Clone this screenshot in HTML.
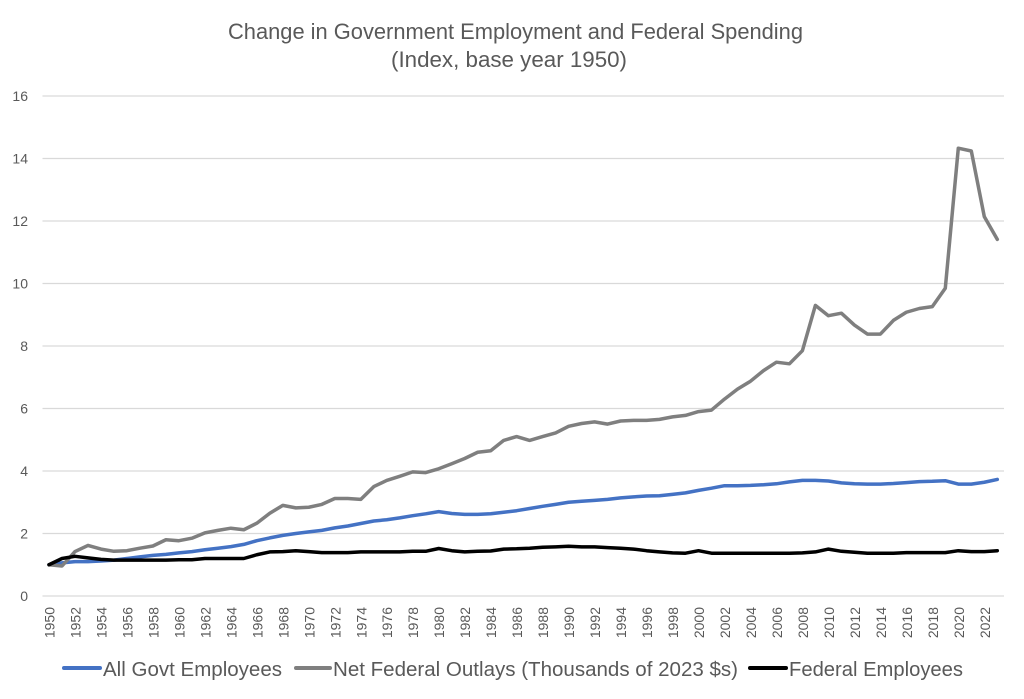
<!DOCTYPE html>
<html>
<head>
<meta charset="utf-8">
<style>
html,body{margin:0;padding:0;background:#fff;}
svg{display:block;}
text{font-family:"Liberation Sans",Arial,sans-serif;fill:#595959;}
</style>
</head>
<body>
<svg width="1024" height="699" viewBox="0 0 1024 699" xmlns="http://www.w3.org/2000/svg">
<rect x="0" y="0" width="1024" height="699" fill="#ffffff"/>
<!-- Title -->
<text x="228" y="39" font-size="22" textLength="575" lengthAdjust="spacingAndGlyphs">Change in Government Employment and Federal Spending</text>
<text x="391" y="67" font-size="22" textLength="236" lengthAdjust="spacingAndGlyphs">(Index, base year 1950)</text>

<!-- Gridlines -->
<g stroke="#d9d9d9" stroke-width="1.3">
<line x1="42.5" y1="96" x2="1004" y2="96"/>
<line x1="42.5" y1="158.5" x2="1004" y2="158.5"/>
<line x1="42.5" y1="221" x2="1004" y2="221"/>
<line x1="42.5" y1="283.5" x2="1004" y2="283.5"/>
<line x1="42.5" y1="346" x2="1004" y2="346"/>
<line x1="42.5" y1="408.5" x2="1004" y2="408.5"/>
<line x1="42.5" y1="471" x2="1004" y2="471"/>
<line x1="42.5" y1="533.5" x2="1004" y2="533.5"/>
<line x1="42.5" y1="596" x2="1004" y2="596"/>
</g>

<!-- Y labels -->
<g font-size="14" text-anchor="end">
<text x="28" y="101">16</text>
<text x="28" y="163.5">14</text>
<text x="28" y="226">12</text>
<text x="28" y="288.5">10</text>
<text x="28" y="351">8</text>
<text x="28" y="413.5">6</text>
<text x="28" y="476">4</text>
<text x="28" y="538.5">2</text>
<text x="28" y="601">0</text>
</g>

<!-- X labels -->
<g font-size="14" text-anchor="end">
<text transform="translate(54.5,607) rotate(-90)">1950</text>
<text transform="translate(80.5,607) rotate(-90)">1952</text>
<text transform="translate(106.5,607) rotate(-90)">1954</text>
<text transform="translate(132.4,607) rotate(-90)">1956</text>
<text transform="translate(158.4,607) rotate(-90)">1958</text>
<text transform="translate(184.4,607) rotate(-90)">1960</text>
<text transform="translate(210.4,607) rotate(-90)">1962</text>
<text transform="translate(236.4,607) rotate(-90)">1964</text>
<text transform="translate(262.3,607) rotate(-90)">1966</text>
<text transform="translate(288.3,607) rotate(-90)">1968</text>
<text transform="translate(314.3,607) rotate(-90)">1970</text>
<text transform="translate(340.3,607) rotate(-90)">1972</text>
<text transform="translate(366.3,607) rotate(-90)">1974</text>
<text transform="translate(392.2,607) rotate(-90)">1976</text>
<text transform="translate(418.2,607) rotate(-90)">1978</text>
<text transform="translate(444.2,607) rotate(-90)">1980</text>
<text transform="translate(470.2,607) rotate(-90)">1982</text>
<text transform="translate(496.2,607) rotate(-90)">1984</text>
<text transform="translate(522.1,607) rotate(-90)">1986</text>
<text transform="translate(548.1,607) rotate(-90)">1988</text>
<text transform="translate(574.1,607) rotate(-90)">1990</text>
<text transform="translate(600.1,607) rotate(-90)">1992</text>
<text transform="translate(626.1,607) rotate(-90)">1994</text>
<text transform="translate(652,607) rotate(-90)">1996</text>
<text transform="translate(678,607) rotate(-90)">1998</text>
<text transform="translate(704,607) rotate(-90)">2000</text>
<text transform="translate(730,607) rotate(-90)">2002</text>
<text transform="translate(756,607) rotate(-90)">2004</text>
<text transform="translate(781.9,607) rotate(-90)">2006</text>
<text transform="translate(807.9,607) rotate(-90)">2008</text>
<text transform="translate(833.9,607) rotate(-90)">2010</text>
<text transform="translate(859.9,607) rotate(-90)">2012</text>
<text transform="translate(885.9,607) rotate(-90)">2014</text>
<text transform="translate(911.8,607) rotate(-90)">2016</text>
<text transform="translate(937.8,607) rotate(-90)">2018</text>
<text transform="translate(963.8,607) rotate(-90)">2020</text>
<text transform="translate(989.8,607) rotate(-90)">2022</text>
</g>

<!-- All Govt Employees (blue) -->
<polyline fill="none" stroke="#4472C4" stroke-width="3.5" stroke-linejoin="round" stroke-linecap="round"
points="49,564.75 62,562.9 75,561.6 88,561.6 101,561 113.9,560.1 126.9,558.5 139.9,556.9 152.9,555.4 165.9,554.4 178.9,552.9 191.9,551.6 204.9,549.75 217.9,548.2 230.9,546.6 243.8,544.4 256.8,540.7 269.8,537.9 282.8,535.4 295.8,533.5 308.8,531.9 321.8,530.4 334.8,527.9 347.8,526 360.8,523.5 373.8,521 386.7,519.75 399.7,517.9 412.7,515.7 425.7,513.8 438.7,511.6 451.7,513.5 464.7,514.4 477.7,514.4 490.7,513.8 503.7,512.25 516.6,510.7 529.6,508.5 542.6,506.3 555.6,504.4 568.6,502.25 581.6,501.3 594.6,500.4 607.6,499.4 620.6,497.9 633.6,496.9 646.5,496 659.5,495.7 672.5,494.4 685.5,492.9 698.5,490.4 711.5,488.2 724.5,485.7 737.5,485.7 750.5,485.4 763.5,484.75 776.4,483.8 789.4,481.9 802.4,480.4 815.4,480.4 828.4,481 841.4,482.9 854.4,483.8 867.4,484.1 880.4,484.1 893.4,483.5 906.3,482.6 919.3,481.6 932.3,481.3 945.3,480.7 958.3,484.1 971.3,484.1 984.3,482.25 997.3,479.4"/>

<!-- Net Federal Outlays (gray) -->
<polyline fill="none" stroke="#7F7F7F" stroke-width="3.5" stroke-linejoin="round" stroke-linecap="round"
points="49,564.75 62,566 75,551.6 88,545.4 101,549.1 113.9,551.3 126.9,550.7 139.9,548.2 152.9,546 165.9,539.75 178.9,540.7 191.9,538.2 204.9,532.9 217.9,530.4 230.9,528.2 243.8,529.75 256.8,523.2 269.8,513.2 282.8,505.4 295.8,507.9 308.8,507.25 321.8,504.4 334.8,498.5 347.8,498.5 360.8,499.4 373.8,486.6 386.7,480.4 399.7,476.3 412.7,471.9 425.7,472.6 438.7,468.8 451.7,463.8 464.7,458.5 477.7,452.25 490.7,450.7 503.7,440.4 516.6,436.6 529.6,440.4 542.6,436.6 555.6,432.9 568.6,426.3 581.6,423.5 594.6,421.9 607.6,424.1 620.6,421 633.6,420.4 646.5,420.4 659.5,419.4 672.5,416.9 685.5,415.4 698.5,411.6 711.5,410.1 724.5,399.1 737.5,389.1 750.5,381.2 763.5,370.6 776.4,362.2 789.4,363.8 802.4,350.7 815.4,305.4 828.4,315.7 841.4,313.2 854.4,325.1 867.4,334.1 880.4,334.1 893.4,320.4 906.3,312.25 919.3,308.5 932.3,306.6 945.3,288.2 958.3,148.2 971.3,151 984.3,216.6 997.3,239.4"/>

<!-- Federal Employees (black) -->
<polyline fill="none" stroke="#000000" stroke-width="3.5" stroke-linejoin="round" stroke-linecap="round"
points="49,564.75 62,558.5 75,556.3 88,557.9 101,559.4 113.9,560.1 126.9,560.1 139.9,560.1 152.9,560.1 165.9,560.1 178.9,559.75 191.9,559.75 204.9,558.5 217.9,558.5 230.9,558.5 243.8,558.5 256.8,554.75 269.8,551.9 282.8,551.6 295.8,550.7 308.8,551.6 321.8,552.6 334.8,552.6 347.8,552.6 360.8,551.9 373.8,551.9 386.7,551.9 399.7,551.9 412.7,551.3 425.7,551.3 438.7,548.5 451.7,550.7 464.7,551.9 477.7,551.3 490.7,551 503.7,549.1 516.6,548.8 529.6,548.2 542.6,547.25 555.6,546.9 568.6,546.3 581.6,546.9 594.6,546.9 607.6,547.6 620.6,548.2 633.6,549.1 646.5,550.7 659.5,551.9 672.5,552.9 685.5,553.2 698.5,550.7 711.5,553.2 724.5,553.2 737.5,553.2 750.5,553.2 763.5,553.2 776.4,553.2 789.4,553.2 802.4,552.9 815.4,551.9 828.4,549.1 841.4,551.3 854.4,552.25 867.4,553.2 880.4,553.2 893.4,553.2 906.3,552.6 919.3,552.6 932.3,552.6 945.3,552.6 958.3,550.7 971.3,551.6 984.3,551.6 997.3,550.7"/>

<!-- Legend -->
<line x1="64" y1="668" x2="100" y2="668" stroke="#4472C4" stroke-width="4" stroke-linecap="round"/>
<text x="103" y="676" font-size="20" textLength="179" lengthAdjust="spacingAndGlyphs">All Govt Employees</text>
<line x1="296" y1="668" x2="330" y2="668" stroke="#7F7F7F" stroke-width="4" stroke-linecap="round"/>
<text x="333" y="676" font-size="20" textLength="405" lengthAdjust="spacingAndGlyphs">Net Federal Outlays (Thousands of 2023 $s)</text>
<line x1="750" y1="668" x2="786" y2="668" stroke="#000000" stroke-width="4" stroke-linecap="round"/>
<text x="789" y="676" font-size="20" textLength="174" lengthAdjust="spacingAndGlyphs">Federal Employees</text>
</svg>
</body>
</html>
